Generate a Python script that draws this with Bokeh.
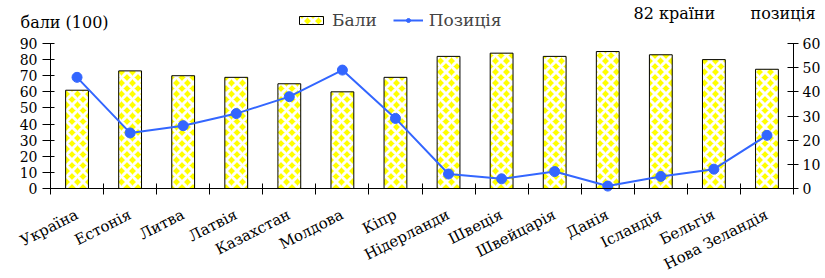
import math
from bokeh.plotting import figure
from bokeh.models import (Range1d, LinearAxis, FixedTicker, Label, Legend, LegendItem,
                          ColumnDataSource)
from bokeh.embed import file_html
from bokeh.resources import INLINE

countries = ["Україна", "Естонія", "Литва", "Латвія", "Казахстан", "Молдова", "Кіпр",
             "Нідерланди", "Швеція", "Швейцарія", "Данія", "Ісландія", "Бельгія", "Нова Зеландія"]
scores = [61, 73, 70, 69, 65, 60, 69, 82, 84, 82, 85, 83, 80, 74]
positions = [46, 23, 26, 31, 38, 49, 29, 6, 4, 7, 1, 5, 8, 22]
left_ticks = [0, 10, 20, 30, 40, 50, 60, 70, 80, 90]
right_ticks = [0, 10, 20, 30, 40, 50, 60]

FONT = "DejaVu Serif"
idx = list(range(len(countries)))
src = ColumnDataSource(dict(x=idx, score=scores, pos=positions, name=countries))

# Layout (pixels on the canvas): the frame covers the whole canvas and the axes
# are drawn at fixed data locations, so that header texts are not clipped.
W, H = 825, 278
PLOT_L, PLOT_R, PLOT_T, PLOT_B = 50, 793, 43, 188
n = len(countries)
xpx = (PLOT_R - PLOT_L) / n
x0 = -0.5 - PLOT_L / xpx
x1 = n - 0.5 + (W - PLOT_R) / xpx
ypx_l = (PLOT_B - PLOT_T) / left_ticks[-1]
ypx_r = (PLOT_B - PLOT_T) / right_ticks[-1]

p = figure(width=W, height=H, output_backend="svg", toolbar_location=None,
           x_range=Range1d(x0, x1),
           y_range=Range1d(-(H - PLOT_B) / ypx_l, PLOT_B / ypx_l),
           min_border=0, x_axis_type=None, y_axis_type=None)
p.extra_y_ranges = {"pos": Range1d(-(H - PLOT_B) / ypx_r, PLOT_B / ypx_r)}
p.grid.visible = False
p.outline_line_color = None
p.background_fill_color = "white"
p.border_fill_color = "white"

# bottom axis: labels at centres, tick marks at category boundaries
xt = FixedTicker(ticks=idx, minor_ticks=[i - 0.5 for i in range(n + 1)])
xa = LinearAxis(ticker=xt, fixed_location=0, bounds=(-0.5, n - 0.5))
xa.major_label_overrides = {i: c for i, c in zip(idx, countries)}
xa.major_tick_in = 0
xa.major_tick_out = 0
xa.minor_tick_in = 5
xa.minor_tick_out = 6
xa.minor_tick_line_color = "black"
xa.axis_line_color = "black"
xa.major_label_orientation = math.radians(27)
xa.major_label_standoff = 19
xa.major_label_text_font = FONT
xa.major_label_text_font_size = "15px"
xa.major_label_text_color = "black"
p.add_layout(xa, "below")

ya = LinearAxis(ticker=FixedTicker(ticks=left_ticks), bounds=(0, left_ticks[-1]),
                fixed_location=-0.5)
ya.major_tick_in = 4
ya.major_tick_out = 8
ya.minor_tick_line_color = None
ya.major_label_standoff = 5
ya.major_label_text_font = FONT
ya.major_label_text_font_size = "14px"
ya.major_label_text_color = "black"
ya.axis_line_color = "black"
p.add_layout(ya, "left")

ra = LinearAxis(y_range_name="pos", ticker=FixedTicker(ticks=right_ticks),
                bounds=(0, right_ticks[-1]), fixed_location=n - 0.5)
ra.major_tick_in = 6
ra.major_tick_out = 5
ra.minor_tick_line_color = None
ra.major_label_standoff = 4
ra.major_label_text_font = FONT
ra.major_label_text_font_size = "14px"
ra.major_label_text_color = "black"
ra.axis_line_color = "black"
p.add_layout(ra, "right")

bars = p.vbar(x="x", top="score", width=0.43, source=src, fill_color="#FFFF00",
              line_color="black", line_width=1, hatch_pattern="x", hatch_color="white",
              hatch_scale=11, hatch_weight=3)
ln = p.line(x="x", y="pos", source=src, y_range_name="pos", line_color="#3366FF", line_width=2)
sc = p.scatter(x="x", y="pos", source=src, y_range_name="pos", size=10,
               fill_color="#3366FF", line_color="#3366FF")

legend = Legend(items=[LegendItem(label="Бали", renderers=[bars]),
                       LegendItem(label="Позиція", renderers=[ln, sc])],
                orientation="horizontal", location=(296, H - 30), padding=0, margin=0,
                spacing=16, glyph_width=30, glyph_height=10, label_standoff=6,
                label_height=20, label_text_font=FONT, label_text_font_size="17px",
                border_line_alpha=0, background_fill_alpha=0)
p.add_layout(legend, "center")

for txt, x, yc in [("бали (100)", 20, 22), ("82 країни", 633, 13), ("позиція", 750, 13)]:
    p.add_layout(Label(x=x, y=H - yc, x_units="screen", y_units="screen", text=txt,
                       text_font=FONT, text_font_size="16px", text_baseline="middle",
                       text_color="black"))

open("out.html", "w").write(file_html(p, INLINE))
